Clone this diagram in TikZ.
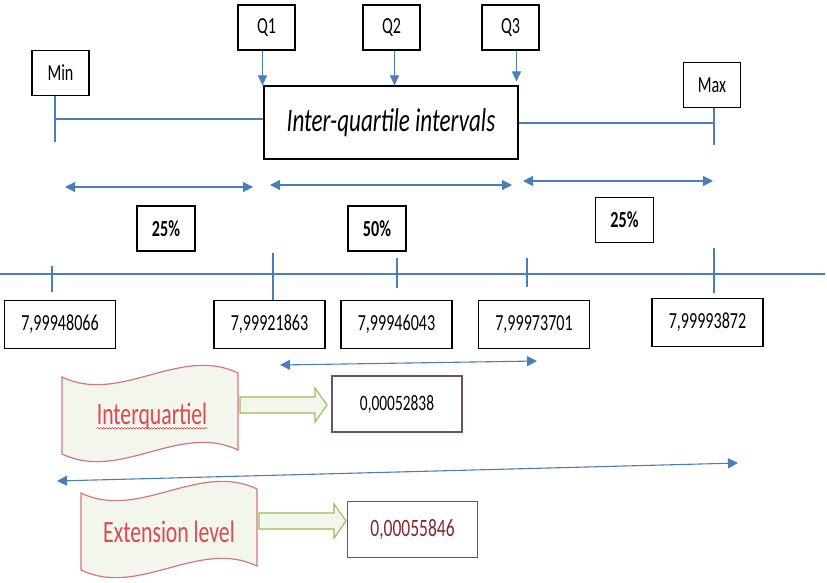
\documentclass[tikz,border=0pt]{standalone}
\usepackage{fontspec}
\setmainfont{Carlito}[FakeStretch=0.7]
\usetikzlibrary{arrows.meta,decorations.pathmorphing}
\definecolor{axisblue}{HTML}{4A7EBB}
\definecolor{bannerred}{HTML}{DC4A50}
\definecolor{bannerfill}{HTML}{F3F6EC}
\definecolor{bannerline}{HTML}{D8777B}
\definecolor{shaftgreen}{HTML}{9BBB59}
\definecolor{resline}{HTML}{70506F}
\definecolor{resred}{HTML}{7E2A30}
\tikzset{
  box/.style={draw, line width=1.1pt, inner sep=0pt, align=center},
  tag/.style={box, minimum width=57pt, minimum height=45pt, font=\fontsize{23}{27}\selectfont},
  pct/.style={box, minimum width=58pt, minimum height=45pt, font=\fontsize{23}{27}\selectfont\bfseries},
  val/.style={box, minimum width=111pt, minimum height=48pt, font=\fontsize{23}{27}\selectfont},
  res/.style={box, draw=resline, minimum width=130pt, minimum height=56pt},
  blue/.style={draw=axisblue, line width=1.1pt},
  tip/.style={blue, -{Triangle[length=10pt,width=9pt]}},
  span/.style={blue, {Triangle[length=10pt,width=10pt]}-{Triangle[length=10pt,width=10pt]}},
  flag/.style={draw=bannerline, fill=bannerfill, line width=1.2pt},
  shaft/.style={draw=shaftgreen, fill=bannerfill, line width=1.1pt, line join=miter},
  flagtext/.style={inner sep=0pt, text=bannerred, font=\fontsize{31}{36}\selectfont}
}
\begin{document}
\begin{tikzpicture}[x=1pt,y=-1pt]
  \useasboundingbox (0,0) rectangle (827,583);

  % top labels
  \node[tag] (min) at (60.5,73) {Min};
  \node[tag] (q1) at (266.5,27.5) {Q1};
  \node[tag] (q2) at (391.5,27.5) {Q2};
  \node[tag] (q3) at (510.5,27.5) {Q3};
  \node[tag] (max) at (712,85) {Max};
  \node[box, minimum width=254pt, minimum height=73pt, font=\fontsize{33}{38}\selectfont\itshape] (iq) at (391,122.5) {Inter-quartile intervals};

  \draw[tip] ([xshift=-4pt]q1.south) -- ([xshift=-4pt]q1.south |- iq.north);
  \draw[tip] ([xshift=3pt]q2.south) -- ([xshift=3pt]q2.south |- iq.north);
  \draw[tip] ([xshift=6pt]q3.south) -- ([xshift=6pt,yshift=4pt]q3.south |- iq.north);

  \draw[blue] ([xshift=-5.5pt]min.south) -- ++(0,46);
  \draw[blue] (55,119) -- (iq.west |- 0,119);
  \draw[blue] ([xshift=2pt]max.south) -- ++(0,37);
  \draw[blue] (iq.east |- 0,123) -- (714,123);

  % spans
  \coordinate (s1a) at (65,187);  \coordinate (s1b) at (253,187);
  \coordinate (s2a) at (270,185); \coordinate (s2b) at (512,185);
  \coordinate (s3a) at (523,181); \coordinate (s3b) at (713,181);
  \draw[span] (s1a) -- (s1b);
  \draw[span] (s2a) -- (s2b);
  \draw[span] (s3a) -- (s3b);

  \node[pct] (p1) at (166,228.5) {25\%};
  \node[pct] (p2) at (377,228.5) {50\%};
  \node[pct] (p3) at (624.5,220) {25\%};

  % axis
  \draw[blue] (0,274) -- (825,274);
  \draw[blue] (52,266) -- (52,292);
  \draw[blue] (273,253) -- (273,300);
  \draw[blue] (397,258) -- (397,288);
  \draw[blue] (527,258) -- (527,287);
  \draw[blue] (714,248) -- (714,293);

  \node[val] (v1) at (60,324.5) {7,99948066};
  \node[val] (v2) at (269.5,324.5) {7,99921863};
  \node[val] (v3) at (396.5,324.5) {7,99946043};
  \node[val] (v4) at (534,324.5) {7,99973701};
  \node[val] (v5) at (707.5,322.5) {7,99993872};

  \coordinate (iqa) at (280,365); \coordinate (iqb) at (537,361);
  \draw[span] (iqa) -- (iqb);
  \coordinate (exa) at (57,481); \coordinate (exb) at (738,463);
  \draw[span] (exa) -- (exb);

  % banners
  \foreach \dx/\dy in {0/0, 19/116} {
    \begin{scope}[shift={(\dx,\dy)}]
      \draw[flag] (62,377) .. controls (120,405) and (180,345) .. (238,373)
        -- (238,450) .. controls (180,422) and (120,482) .. (62,454) -- cycle;
      \draw[shaft] (240,397) -- (315,397) -- (315,388) -- (327,405)
        -- (315,422) -- (315,413) -- (240,413) -- cycle;
    \end{scope}
  }
  \node[flagtext] (bt1) at (152,416) {Interquartiel};
  \draw[bannerred, line width=0.6pt, decorate, decoration={snake, amplitude=0.8pt, segment length=3pt}]
    ([yshift=-4pt]bt1.base west) -- ([yshift=-4pt]bt1.base east);
  \node[flagtext] (bt2) at (169,532) {Extension level};

  \node[res, font=\fontsize{22}{26}\selectfont] (r1) at (397,404) {0,00052838};
  \node[res, font=\fontsize{25}{29}\selectfont, text=resred] (r2) at (412.5,529.5) {0,00055846};
\end{tikzpicture}
\end{document}
